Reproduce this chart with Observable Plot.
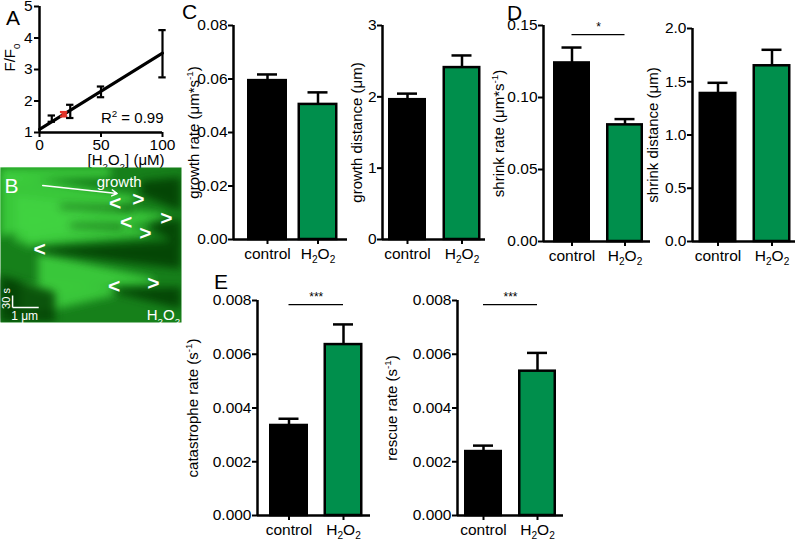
<!DOCTYPE html>
<html><head><meta charset="utf-8">
<script src="https://cdn.jsdelivr.net/npm/d3@7"></script>
<script src="https://cdn.jsdelivr.net/npm/@observablehq/plot@0.6"></script>
<style>
body{margin:0;background:#fff;}
#fig{position:relative;width:800px;height:542px;overflow:hidden;font-family:"Liberation Sans",Arial,Helvetica,sans-serif;}
.lbl{position:absolute;font-size:21px;line-height:1;color:#000;}
</style></head><body><div id="fig"></div>
<script>
// ---------- DATA ----------
// Panel A: F/F0 vs [H2O2]
const concA = [10, 20, 25, 50, 100];
const ratioA = [1.44, 1.58, 1.67, 2.29, 3.5];
const errA = [0.10, 0.07, 0.21, 0.17, 0.75];
const highlightConc = 20;
const fitConc = [0, 100];
const fitRatio = [1.1, 3.52];
const r2 = "0.99";
const ticksAx = [0, 50, 100];
const ticksAy = [1, 2, 3, 4, 5];

// Panels C–E
const groups = ["control", "H2O2"];
const groupLabels = ["control", "H_{2}O_{2}"];
const growthRate = [0.0594, 0.0505], growthRateErr = [0.0023, 0.0045];
const growthDist = [1.96, 2.41], growthDistErr = [0.085, 0.17];
const shrinkRate = [0.124, 0.081], shrinkRateErr = [0.0107, 0.004];
const shrinkDist = [1.39, 1.65], shrinkDistErr = [0.10, 0.15];
const catRate = [0.00335, 0.00636], catRateErr = [0.00025, 0.00075];
const rescueRate = [0.00238, 0.00537], rescueRateErr = [0.00022, 0.00068];
const ticksGrowthRate = [0, 0.02, 0.04, 0.06, 0.08];
const ticksGrowthDist = [0, 1, 2, 3];
const ticksShrinkRate = [0, 0.05, 0.10, 0.15];
const ticksShrinkDist = [0, 0.5, 1.0, 1.5, 2.0];
const ticksRate = [0, 0.002, 0.004, 0.006, 0.008];
const sigShrinkRate = {level: 0.1437, text: "*"};
const sigCat = {level: 0.00785, text: "***"};
const sigRescue = {level: 0.00785, text: "***"};

// Panel B: kymograph (image space 0..180 x 0..155)
const brightBands = [
  {id: "a", x: [0, 135], y1: [6, 29], y2: [70, 35]},
  {id: "b", x: [15, 162], y1: [28, 47], y2: [76, 53]},
  {id: "c", x: [25, 146], y1: [44, 63], y2: [80, 69]},
  {id: "d", x: [38, 152], y1: [86, 111], y2: [122, 117]},
  {id: "e", x: [0, 110], y1: [0, 0], y2: [14, 10]},
  {id: "f", x: [20, 115], y1: [118, 120], y2: [150, 128]}
];
const darkBands = [
  {id: "g", x: [36, 180], y1: [82, 73], y2: [84, 102]},
  {id: "h", x: [140, 180], y1: [14, 10], y2: [28, 44]},
  {id: "i", x: [150, 180], y1: [56, 52], y2: [62, 78]},
  {id: "j", x: [112, 180], y1: [122, 120], y2: [125, 142]},
  {id: "k", x: [0, 55], y1: [108, 125], y2: [155, 155]},
  {id: "l", x: [60, 132], y1: [38, 40], y2: [41, 44]},
  {id: "m", x: [70, 122], y1: [57, 58], y2: [60, 62]}
];
const chevrons = [
  {s: "<", x: 114, y: 36}, {s: ">", x: 137, y: 32}, {s: ">", x: 165, y: 51},
  {s: "<", x: 125, y: 55}, {s: ">", x: 144, y: 66}, {s: "<", x: 39, y: 82},
  {s: ">", x: 152, y: 116}, {s: "<", x: 113, y: 119}
];

// ---------- HELPERS ----------
const GREEN = "#008F4C", RED = "#E3342A";
const FONT = '"Liberation Sans", Arial, Helvetica, sans-serif';
const TICK_FS = 15.5;
const fig = document.getElementById("fig");
const NS = "http://www.w3.org/2000/svg";

function rich(root) {
  root.querySelectorAll("text").forEach(t => {
    if (t.children.length) return;
    const s = t.textContent;
    if (!/[_^]\{/.test(s)) return;
    const fs = parseFloat(getComputedStyle(t).fontSize) || 15;
    t.textContent = "";
    let cur = 0, last = 0, m;
    const re = /([_^])\{([^}]*)\}/g;
    const add = (txt, off, small) => {
      if (!txt) return;
      const sp = document.createElementNS(NS, "tspan");
      sp.textContent = txt;
      const d = off - cur;
      if (d) sp.setAttribute("dy", d.toFixed(2));
      cur = off;
      if (small) sp.setAttribute("font-size", (fs * 0.65).toFixed(1));
      t.appendChild(sp);
    };
    while ((m = re.exec(s))) {
      add(s.slice(last, m.index), 0, false);
      add(m[2], m[1] === "_" ? fs * 0.3 : -fs * 0.4, true);
      last = re.lastIndex;
    }
    add(s.slice(last), 0, false);
  });
}
function place(el, left, top) {
  el.style.position = "absolute";
  el.style.left = left + "px";
  el.style.top = top + "px";
  fig.appendChild(el);
  el.querySelectorAll('g[aria-label*="tick label"]').forEach(g => {
    g.setAttribute("font-size", TICK_FS);
    g.style.fontSize = TICK_FS + "px";
  });
  rich(el);
  return el;
}
function letter(txt, left, top) {
  const d = document.createElement("div");
  d.className = "lbl"; d.textContent = txt;
  d.style.left = left + "px"; d.style.top = top + "px";
  fig.appendChild(d);
}
const baseStyle = {fontFamily: FONT, fontSize: "15px", background: "transparent", overflow: "visible", color: "#000"};

function barChart(s) {
  const ML = 75, MR = 8, MT = 14, MB = 40;
  const k = s.c2 - s.c1;
  const lo = 1 - (s.c1 - s.ax) / k, hi = 2 + (s.ex - s.c2) / k;
  const W = ML + (s.ex - s.ax) + MR, H = MT + (s.yb - s.yt) + MB;
  const SW = 2.5;
  const hw = (s.barW - SW) / 2 / k, cw = 10 / k;
  const rows = groups.map((g, i) => ({i: i + 1, g, v: s.values[i], e: s.errors[i]}));
  const marks = [
    Plot.rectY(rows, {x1: d => d.i - hw, x2: d => d.i + hw, y1: 0, y2: "v",
      fill: d => d.g === "control" ? "#000000" : GREEN, stroke: "#000", strokeWidth: SW}),
    Plot.ruleX(rows, {x: "i", y1: "v", y2: d => d.v + d.e, stroke: "#000", strokeWidth: 2.5}),
    Plot.ruleY(rows, {y: d => d.v + d.e, x1: d => d.i - cw, x2: d => d.i + cw, stroke: "#000", strokeWidth: 2.5}),
    Plot.ruleX([lo], {strokeWidth: 2.5}),
    Plot.ruleY([0], {strokeWidth: 2.5}),
    Plot.axisY({ticks: s.ticks, tickFormat: s.fmt, tickSize: 5, tickPadding: 1, fontSize: TICK_FS, strokeWidth: 2, label: null}),
    Plot.axisX({ticks: [1, 2], tickFormat: i => groupLabels[i - 1], tickSize: 5, tickPadding: 3, fontSize: TICK_FS, strokeWidth: 2, label: null}),
    Plot.text([s.label], {frameAnchor: "left", textAnchor: "middle", lineAnchor: "middle", rotate: -90, dx: -(s.ax - s.labelX), fontSize: 15})
  ];
  if (s.sig) {
    marks.push(
      Plot.ruleY([s.sig.level], {x1: 1, x2: 2, strokeWidth: 1.2}),
      Plot.text([s.sig.text], {x: 1.5, y: s.sig.level, dy: -7, fontSize: 12})
    );
  }
  const p = Plot.plot({
    width: W, height: H, marginLeft: ML, marginRight: MR, marginTop: MT, marginBottom: MB,
    x: {domain: [lo, hi]}, y: {domain: [0, s.ymax]}, color: {type: "identity"},
    style: baseStyle, marks
  });
  place(p, s.ax - ML, s.yt - MT);
}

// ---------- PANEL A ----------
(function () {
  const rows = concA.map((c, i) => ({c, r: ratioA[i], e: errA[i]}));
  const col = d => d.c === highlightConc ? RED : "#000000";
  const fit = fitConc.map((c, i) => ({c, r: fitRatio[i]}));
  const p = Plot.plot({
    width: 175, height: 170, marginLeft: 39, marginRight: 13, marginTop: 6, marginBottom: 38,
    x: {domain: [0, 100]}, y: {domain: [1, 5]}, color: {type: "identity"},
    style: baseStyle,
    marks: [
      Plot.ruleX([0], {strokeWidth: 2.5}),
      Plot.ruleY([1], {strokeWidth: 2.5}),
      Plot.line(fit, {x: "c", y: "r", stroke: "#000", strokeWidth: 3}),
      Plot.ruleX(rows, {x: "c", y1: d => d.r - d.e, y2: d => d.r + d.e, stroke: col, strokeWidth: 2.2}),
      Plot.ruleY(rows, {y: d => d.r + d.e, x1: d => d.c - 3, x2: d => d.c + 3, stroke: col, strokeWidth: 2.2}),
      Plot.ruleY(rows, {y: d => d.r - d.e, x1: d => d.c - 3, x2: d => d.c + 3, stroke: col, strokeWidth: 2.2}),
      Plot.dot(rows.filter(d => d.c === highlightConc), {x: "c", y: "r", r: 3, fill: RED, symbol: "square"}),
      Plot.axisY({ticks: ticksAy, tickFormat: d3.format("d"), tickSize: 5, tickPadding: 2, fontSize: TICK_FS, strokeWidth: 2, label: null}),
      Plot.axisX({ticks: ticksAx, tickFormat: d3.format("d"), tickSize: 5, tickPadding: 1, fontSize: TICK_FS, strokeWidth: 2, label: null}),
      Plot.text(["F/F_{0}"], {frameAnchor: "left", textAnchor: "middle", lineAnchor: "middle", rotate: -90, dx: -29, dy: -12, fontSize: 15}),
      Plot.text(["[H_{2}O_{2}] (μM)"], {frameAnchor: "bottom", textAnchor: "middle", lineAnchor: "middle", dx: 25, dy: 28, fontSize: 15}),
      Plot.text(["R^{2} = " + r2], {frameAnchor: "bottom-right", textAnchor: "end", lineAnchor: "middle", dx: 1, dy: -14, fontSize: 15})
    ]
  });
  place(p, 0, 0);
})();

// ---------- PANEL B ----------
(function () {
  const toRows = bands => bands.flatMap(b => b.x.map((x, j) => ({id: b.id, x, y1: b.y1[j], y2: b.y2[j]})));
  const p = Plot.plot({
    width: 181, height: 155, margin: 0,
    x: {domain: [0, 180], axis: null}, y: {domain: [0, 155], reverse: true, axis: null},
    style: baseStyle,
    marks: [
      Plot.frame({fill: "#16801a"}),
      Plot.areaY(toRows(brightBands), {x: "x", y1: "y1", y2: "y2", z: "id", fill: "#3fd33f", fillOpacity: 0.85, clip: "frame"}),
      Plot.areaY(toRows(darkBands), {x: "x", y1: "y1", y2: "y2", z: "id", fill: "#063a07", fillOpacity: 0.8, clip: "frame"}),
      Plot.arrow([{x1: 42, y1: 18, x2: 116, y2: 26}], {x1: "x1", y1: "y1", x2: "x2", y2: "y2", stroke: "white", strokeWidth: 1.5, headLength: 6, bend: 0}),
      Plot.link([{x1: 12, y1: 128, x2: 12, y2: 140}, {x1: 12, y1: 140, x2: 38, y2: 140}], {x1: "x1", y1: "y1", x2: "x2", y2: "y2", stroke: "white", strokeWidth: 1.5}),
      Plot.text(chevrons, {x: "x", y: "y", text: "s", fill: "white", fontSize: 21, fontWeight: "bold"}),
      Plot.text(["growth"], {x: 118, y: 15, fill: "white", fontSize: 15}),
      Plot.text(["B"], {x: 11, y: 19, fill: "white", fontSize: 21}),
      Plot.text(["H_{2}O_{2}"], {x: 162, y: 148, fill: "white", fontSize: 15}),
      Plot.text(["1 μm"], {x: 24, y: 149, fill: "white", fontSize: 12}),
      Plot.text(["30 s"], {x: 6, y: 131, rotate: -90, fill: "white", fontSize: 11})
    ]
  });
  const svg = p.tagName.toLowerCase() === "svg" ? p : p.querySelector("svg");
  const defs = document.createElementNS(NS, "defs");
  defs.innerHTML = '<filter id="blurB" x="-30%" y="-30%" width="160%" height="160%"><feGaussianBlur stdDeviation="4.5"/></filter>';
  svg.insertBefore(defs, svg.firstChild);
  svg.querySelectorAll('g[aria-label="area"]').forEach(g => g.setAttribute("filter", "url(#blurB)"));
  place(p, 0, 167);
})();

// ---------- PANELS C, D, E ----------
barChart({ax: 233, ex: 347, yt: 25, yb: 239, c1: 267, c2: 317.5, barW: 40, ymax: 0.08,
  ticks: ticksGrowthRate, fmt: d3.format(".2f"), values: growthRate, errors: growthRateErr,
  label: "growth rate (μm*s^{-1})", labelX: 194});
barChart({ax: 382, ex: 485, yt: 25, yb: 239, c1: 407, c2: 461.5, barW: 38, ymax: 3,
  ticks: ticksGrowthDist, fmt: d3.format("d"), values: growthDist, errors: growthDistErr,
  label: "growth distance (μm)", labelX: 357});
barChart({ax: 543, ex: 650, yt: 25, yb: 241, c1: 571.5, c2: 624.5, barW: 37, ymax: 0.15,
  ticks: ticksShrinkRate, fmt: d3.format(".2f"), values: shrinkRate, errors: shrinkRateErr,
  label: "shrink rate (μm*s^{-1})", labelX: 499, sig: sigShrinkRate});
barChart({ax: 692, ex: 795, yt: 28, yb: 241, c1: 717.5, c2: 771.5, barW: 38, ymax: 2,
  ticks: ticksShrinkDist, fmt: d3.format(".1f"), values: shrinkDist, errors: shrinkDistErr,
  label: "shrink distance (μm)", labelX: 653});
barChart({ax: 257, ex: 370, yt: 300, yb: 515, c1: 288.5, c2: 343, barW: 39, ymax: 0.008,
  ticks: ticksRate, fmt: d3.format(".3f"), values: catRate, errors: catRateErr,
  label: "catastrophe rate (s^{-1})", labelX: 193, sig: sigCat});
barChart({ax: 457, ex: 563, yt: 300, yb: 515, c1: 483, c2: 537, barW: 38, ymax: 0.008,
  ticks: ticksRate, fmt: d3.format(".3f"), values: rescueRate, errors: rescueRateErr,
  label: "rescue rate (s^{-1})", labelX: 392, sig: sigRescue});

// panel letters
letter("A", 6, 7);
letter("C", 182, 1);
letter("D", 507, 2);
letter("E", 214, 271);
</script></body></html>
